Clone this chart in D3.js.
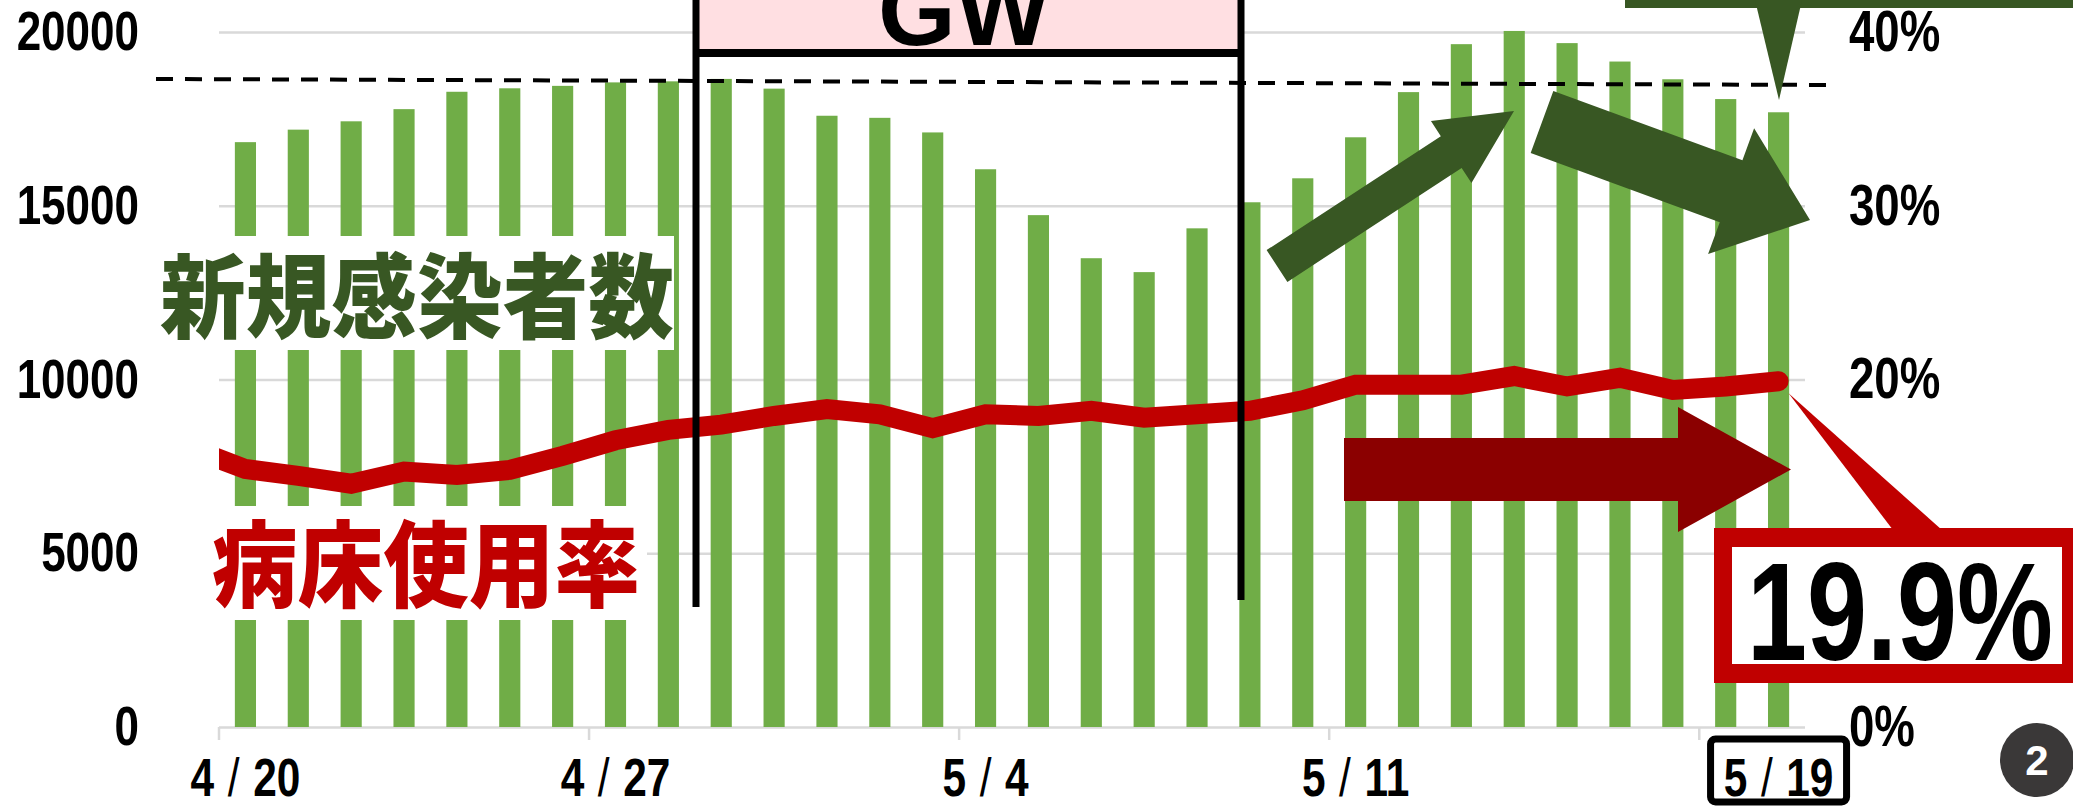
<!DOCTYPE html>
<html><head><meta charset="utf-8">
<script src="https://cdn.jsdelivr.net/npm/d3@7"></script>
<style>html,body{margin:0;padding:0;background:#fff;overflow:hidden}</style>
</head><body>
<svg id="c" width="2073" height="806"></svg>
<script>
// ---------- DATA ----------
const dates = ["4/20","4/21","4/22","4/23","4/24","4/25","4/26","4/27","4/28","4/29","4/30",
  "5/1","5/2","5/3","5/4","5/5","5/6","5/7","5/8","5/9","5/10","5/11","5/12","5/13","5/14","5/15","5/16","5/17","5/18","5/19"];
const newCases = [16830,17190,17430,17780,18280,18380,18450,18550,18580,18650,18370,
  17590,17530,17110,16050,14730,13490,13090,14350,15100,15790,16970,18270,19650,20030,19680,19150,18640,18070,17690];
const lineDates = ["4/19", ...dates];
const bedRate = [16.0,14.85,14.45,14.0,14.7,14.5,14.8,15.6,16.5,17.1,17.4,17.9,
  18.3,18.0,17.2,18.0,17.9,18.2,17.8,18.0,18.2,18.8,19.7,19.7,19.7,20.2,19.6,20.1,19.4,19.6,19.9];
const leftTicks = [0,5000,10000,15000,20000];
const rightTicks = [0,20,30,40];          // 10% is hidden under the callout in the reference
const xLabelDates = ["4/20","4/27","5/4","5/11","5/19"];
const xTickDates = ["4/20","4/27","5/4","5/11","5/18"];
const highlightDate = "5/19";
const casesTitle = "新規感染者数";
const bedTitle = "病床使用率";
const gwText = "GW";
const calloutText = "19.9%";
const pageNo = "2";

// ---------- LAYOUT ----------
const W = 2073, H = 806;
const plot = {left:219, right:1805, top:32, bottom:727};
const SANS = "'Liberation Sans',Arial,sans-serif";
const CJK = "'Noto Sans CJK JP','Noto Sans CJK SC',sans-serif";
const GREEN_BAR = "#70AD47", DARK_GREEN = "#385723", RED = "#C00000", DARK_RED = "#8B0000", GRID = "#D9D9D9";
const SX = 0.8; // horizontal condensing of numeric labels

const svg = d3.select("#c");
svg.append("rect").attr("width",W).attr("height",H).attr("fill","#fff");

const x = d3.scaleBand().domain(dates).range([plot.left, plot.right]).paddingInner(0.6).paddingOuter(0.3);
const step = x.step(), bw = x.bandwidth();
const cx = d => x(d) + bw/2;
const y = d3.scaleLinear().domain([0,20000]).range([plot.bottom, plot.top]);
const yP = d3.scaleLinear().domain([0,40]).range([plot.bottom, plot.top]);

// gridlines
svg.append("g").attr("transform",`translate(${plot.left},0)`)
  .call(d3.axisLeft(y).tickValues(leftTicks).tickSize(-(plot.right-plot.left)).tickFormat(""))
  .call(g=>g.select(".domain").remove())
  .selectAll("line").attr("stroke",GRID).attr("stroke-width",2.5);

// x tick marks at category boundaries
const half = (step - bw)/2;
svg.append("g").selectAll("line").data(xTickDates).join("line")
  .attr("x1",d=>x(d)-half).attr("x2",d=>x(d)-half)
  .attr("y1",plot.bottom).attr("y2",plot.bottom+13)
  .attr("stroke",GRID).attr("stroke-width",2.5);

// left axis labels
svg.append("g").attr("transform",`translate(${plot.left},0)`)
  .call(d3.axisLeft(y).tickValues(leftTicks).tickSize(0).tickPadding(0).tickFormat(d3.format("d")))
  .call(g=>g.select(".domain").remove())
  .selectAll("text").attr("font-family",SANS).attr("font-weight",700).attr("font-size",55).attr("fill","#000")
  .attr("x",0).attr("transform",`translate(-80,0) scale(${SX},1)`);

// right axis labels
svg.append("g").attr("transform",`translate(${plot.right},0)`)
  .call(d3.axisRight(yP).tickValues(rightTicks).tickSize(0).tickPadding(0).tickFormat(d=>d+"%"))
  .call(g=>g.select(".domain").remove())
  .selectAll("text").attr("font-family",SANS).attr("font-weight",700).attr("font-size",57).attr("fill","#000")
  .attr("x",0).attr("transform",`translate(44,0) scale(${SX},1)`);

// bars
svg.append("g").selectAll("rect").data(dates).join("rect")
  .attr("x",d=>x(d)).attr("width",bw)
  .attr("y",(d,i)=>y(newCases[i])).attr("height",(d,i)=>plot.bottom - y(newCases[i]))
  .attr("fill",GREEN_BAR);

// x axis labels
const xa = svg.append("g").attr("transform",`translate(0,${plot.bottom})`)
  .call(d3.axisBottom(x).tickValues(xLabelDates).tickSize(0).tickPadding(31));
xa.select(".domain").remove();
xa.selectAll("text").attr("font-family",SANS).attr("font-weight",700).attr("font-size",53).attr("fill","#000")
  .attr("transform",`scale(${SX},1)`)
  .each(function(d){
    const t = d3.select(this); const parts = d.split("/");
    t.text(null);
    t.append("tspan").text(parts[0]);
    t.append("tspan").attr("dx",17).attr("font-weight",400).text("/");
    t.append("tspan").attr("dx",17).text(parts[1]);
  });
// highlight box for last date
svg.append("rect").attr("x",cx(highlightDate)-68).attr("y",739).attr("width",136).attr("height",63)
  .attr("rx",5).attr("fill","none").attr("stroke","#000").attr("stroke-width",7);

// title boxes (white backgrounds) + titles
svg.append("rect").attr("x",160).attr("y",236).attr("width",514).attr("height",114).attr("fill","#fff");
svg.append("text").attr("x",160).attr("y",331).attr("font-family",CJK).attr("font-weight",900)
  .attr("font-size",92).attr("fill",DARK_GREEN).attr("textLength",514).attr("lengthAdjust","spacingAndGlyphs")
  .text(casesTitle);
svg.append("rect").attr("x",205).attr("y",506).attr("width",442).attr("height",114).attr("fill","#fff");
svg.append("text").attr("x",212).attr("y",600).attr("font-family",CJK).attr("font-weight",900)
  .attr("font-size",94).attr("fill",RED).attr("textLength",428).attr("lengthAdjust","spacingAndGlyphs")
  .text(bedTitle);

// bed usage line
svg.append("defs").append("clipPath").attr("id","clipL")
  .append("rect").attr("x",plot.left).attr("y",0).attr("width",W-plot.left).attr("height",H);
const base0 = lineDates.indexOf(dates[0]);
const lx = (d,i) => cx(dates[0]) + (i - base0)*step;
svg.append("path").attr("clip-path","url(#clipL)")
  .datum(bedRate)
  .attr("d", d3.line().x((v,i)=>lx(lineDates[i],i)).y(v=>yP(v)))
  .attr("fill","none").attr("stroke",RED).attr("stroke-width",20)
  .attr("stroke-linejoin","miter").attr("stroke-linecap","round");

// GW box
svg.append("rect").attr("x",696).attr("y",-10).attr("width",545).attr("height",63).attr("fill","#FFDFE2");
svg.append("text").attr("x",964).attr("y",45).attr("text-anchor","middle")
  .attr("font-family",SANS).attr("font-weight",700).attr("font-size",100)
  .attr("textLength",172).attr("lengthAdjust","spacingAndGlyphs").text(gwText);
svg.append("line").attr("x1",696).attr("x2",1241).attr("y1",53).attr("y2",53).attr("stroke","#000").attr("stroke-width",8);
svg.append("line").attr("x1",696).attr("x2",696).attr("y1",-10).attr("y2",607).attr("stroke","#000").attr("stroke-width",7);
svg.append("line").attr("x1",1241).attr("x2",1241).attr("y1",-10).attr("y2",600).attr("stroke","#000").attr("stroke-width",7);

// dashed reference line
svg.append("line").attr("x1",156).attr("y1",79).attr("x2",1833).attr("y2",85)
  .attr("stroke","#000").attr("stroke-width",4).attr("stroke-dasharray","17 12");

// arrows
function arrowPts(T, Hd, hw, headLen, headHw){
  const dx=Hd[0]-T[0], dy=Hd[1]-T[1], L=Math.hypot(dx,dy);
  const u=[dx/L,dy/L], n=[-u[1],u[0]];
  const B=[Hd[0]-headLen*u[0], Hd[1]-headLen*u[1]];
  const p=(P,k)=>[P[0]+k*n[0], P[1]+k*n[1]];
  return [p(T,-hw), p(B,-hw), p(B,-headHw), Hd, p(B,headHw), p(B,hw), p(T,hw)];
}
svg.append("polygon").attr("points",arrowPts([1277,266],[1514,111],19,75,37).join(" ")).attr("fill",DARK_GREEN);
svg.append("polygon").attr("points",arrowPts([1542,122],[1810,220],33,84,67).join(" ")).attr("fill",DARK_GREEN);
svg.append("polygon").attr("points",arrowPts([1344,469.5],[1791,469.5],31.5,113,62.5).join(" ")).attr("fill",DARK_RED);

// top-right banner with pointer
svg.append("rect").attr("x",1625).attr("y",-10).attr("width",460).attr("height",18).attr("fill",DARK_GREEN);
svg.append("polygon").attr("points","1755,0 1802,0 1779,100").attr("fill",DARK_GREEN);

// callout for latest bed rate
const lastX = cx(highlightDate), lastY = yP(bedRate[bedRate.length-1]);
svg.append("polygon").attr("points",`${lastX+10},${lastY+12} 1893,530 1942,530`).attr("fill",RED);
svg.append("rect").attr("x",1714).attr("y",528).attr("width",400).attr("height",155).attr("fill",RED);
svg.append("rect").attr("x",1732).attr("y",547).attr("width",330).attr("height",117).attr("fill","#fff");
svg.append("text").attr("x",1747).attr("y",660).attr("font-family",SANS).attr("font-weight",700).attr("font-size",140)
  .attr("textLength",306).attr("lengthAdjust","spacingAndGlyphs").attr("fill","#000").text(calloutText);

// page badge
svg.append("circle").attr("cx",2037).attr("cy",760).attr("r",37).attr("fill","#3A3838");
svg.append("text").attr("x",2037).attr("y",775).attr("text-anchor","middle").attr("font-family",SANS)
  .attr("font-weight",700).attr("font-size",42).attr("fill","#fff").text(pageNo);
</script>
</body></html>
